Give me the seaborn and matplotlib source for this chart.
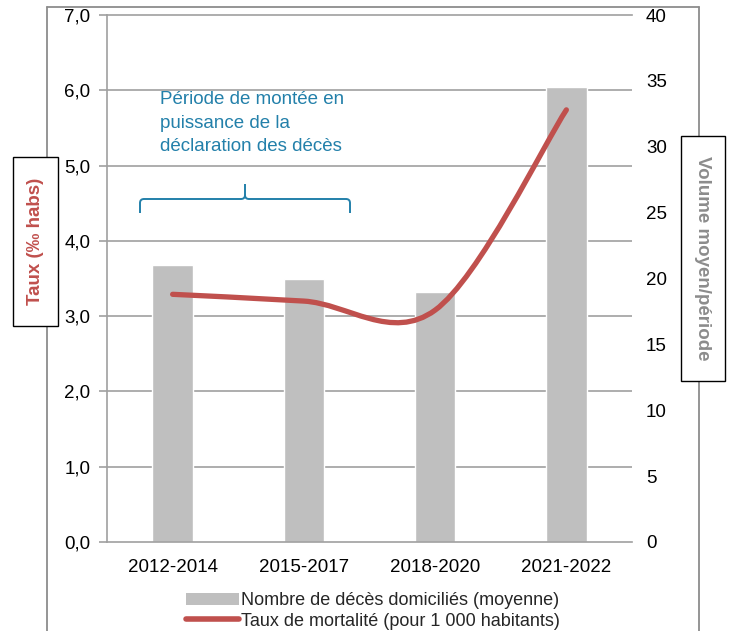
import numpy as np
import pandas as pd
import matplotlib
matplotlib.use("Agg")
import matplotlib.pyplot as plt
from matplotlib.path import Path
from matplotlib.patches import PathPatch, Rectangle, Patch
from matplotlib.lines import Line2D
from matplotlib.ticker import FixedLocator, FuncFormatter
import seaborn as sns

# ---------------- data ----------------
periods = ["2012-2014", "2015-2017", "2018-2020", "2021-2022"]
volume_moyen = [21, 20, 19, 34.5]          # right axis (bars)
taux_mortalite = [3.29, 3.2, 3.08, 5.74]   # left axis (line, per 1000)
left_ticks = [0, 1, 2, 3, 4, 5, 6, 7]
right_ticks = [0, 5, 10, 15, 20, 25, 30, 35, 40]
label_bars = "Nombre de décès domiciliés (moyenne)"
label_line = "Taux de mortalité (pour 1 000 habitants)"
ylabel_left = "Taux (‰ habs)"
ylabel_right = "Volume moyen/période"
annotation = "Période de montée en\npuissance de la\ndéclaration des décès"

# ---------------- style ----------------
sns.set_style("white")
plt.rcParams["font.family"] = ["Liberation Sans", "DejaVu Sans"]

W, H = 731, 631
BAR_C = "#BFBFBF"
LINE_C = "#C0504D"
GRID_C = "#A0A0A0"
TEAL = "#2380AA"
FS = 13
TFS = 13.5

def fx(x):
    return x / W

def fy(y):
    return 1 - y / H

fig = plt.figure(figsize=(W / 100, H / 100), dpi=100)
ax = fig.add_axes([fx(107), fy(542), (632 - 107) / W, (542 - 15) / H])
ax2 = ax.twinx()
ax.set_zorder(2)
ax2.set_zorder(1)
ax.patch.set_visible(False)

df = pd.DataFrame({"periode": periods, "volume": volume_moyen, "taux": taux_mortalite})

# bars on the right axis
sns.barplot(data=df, x="periode", y="volume", ax=ax2, color=BAR_C,
            saturation=1, width=0.31, zorder=2)
ax2.set_ylim(0, 40)
ax2.set_yticks(right_ticks)
ax2.tick_params(axis="y", length=0, pad=10, labelsize=TFS, colors="black")
# grid lines aligned to the left-axis ticks, drawn behind the bars
ax2.yaxis.set_minor_locator(FixedLocator([v * 40 / 7 for v in left_ticks[1:-1]]))
ax2.tick_params(axis="y", which="minor", length=0)
ax2.grid(True, which="minor", axis="y", color=GRID_C, lw=1.2, zorder=0)
ax2.grid(False, which="major")
ax2.set_axisbelow(True)
for s in ax2.spines.values():
    s.set_visible(False)
ax2.set_xlabel("")
ax2.set_ylabel("")

# smoothed line (Excel-like Bezier smoothing) on the left axis
xs = np.arange(len(taux_mortalite), dtype=float)
ys = np.asarray(taux_mortalite, dtype=float)
pts = np.column_stack([xs, ys])
verts = [tuple(pts[0])]
codes = [Path.MOVETO]
n = len(pts)
for i in range(n - 1):
    p0 = pts[i - 1] if i > 0 else pts[i]
    p1 = pts[i]
    p2 = pts[i + 1]
    p3 = pts[i + 2] if i + 2 < n else pts[i + 1]
    c1 = p1 + (p2 - p0) / 6.0
    c2 = p2 - (p3 - p1) / 6.0
    verts += [tuple(c1), tuple(c2), tuple(p2)]
    codes += [Path.CURVE4] * 3
ax.add_patch(PathPatch(Path(verts, codes), facecolor="none", edgecolor=LINE_C,
                       lw=3.8, capstyle="round", joinstyle="round", zorder=5))

ax.set_ylim(0, 7)
ax.set_xlim(-0.5, len(periods) - 0.5)
ax.set_yticks(left_ticks)
ax.yaxis.set_major_formatter(FuncFormatter(lambda v, p: f"{v:.1f}".replace(".", ",")))
ax.tick_params(axis="y", length=6, width=1.2, color=GRID_C, pad=6,
               labelsize=TFS, colors="black")
ax.yaxis.set_tick_params(color=GRID_C)
ax.set_xticks(range(len(periods)))
ax.set_xticklabels(periods)
ax.tick_params(axis="x", which="major", length=0, pad=12, labelsize=TFS, colors="black")
ax.xaxis.set_minor_locator(FixedLocator(np.arange(-0.5, len(periods), 1.0)))
ax.tick_params(axis="x", which="minor", length=6, width=1.2, color=GRID_C)
ax.spines["right"].set_visible(False)
for side in ["left", "bottom", "top"]:
    ax.spines[side].set_color(GRID_C)
    ax.spines[side].set_linewidth(1.2)
ax.set_xlabel("")
ax.set_ylabel("")

# figure border (partly visible frame)
for (x0, y0, x1, y1) in [(47, 6.5, 47, 640), (47, 6.5, 699, 6.5), (699, 6.5, 699, 640)]:
    fig.add_artist(Line2D([fx(x0), fx(x1)], [fy(y0), fy(y1)], color="#8C8C8C",
                          lw=1.3, transform=fig.transFigure, zorder=0))

# boxed axis titles
fig.add_artist(Rectangle((fx(13), fy(326)), (58 - 13) / W, (326 - 157) / H,
                         transform=fig.transFigure, facecolor="white",
                         edgecolor="black", lw=1.0, zorder=3))
fig.text(fx(35.5), fy(241.5), ylabel_left, rotation=90, ha="center", va="center",
         fontsize=13.5, fontweight="bold", color=LINE_C, zorder=4)
fig.add_artist(Rectangle((fx(681), fy(381)), (725 - 681) / W, (381 - 136) / H,
                         transform=fig.transFigure, facecolor="white",
                         edgecolor="black", lw=1.0, zorder=3))
fig.text(fx(703), fy(258.5), ylabel_right, rotation=-90, ha="center", va="center",
         fontsize=13.5, fontweight="bold", color="#8C8C8C", zorder=4)

# annotation text and brace
fig.text(fx(160), fy(91), annotation, ha="left", va="top", fontsize=13.5,
         color=TEAL, linespacing=1.5, zorder=4)
bv = [(140, 213), (140, 203), (140, 199), (144, 199), (241, 199), (245, 199),
      (245, 195), (245, 184),
      (245, 195), (245, 199), (249, 199), (346, 199), (350, 199), (350, 203),
      (350, 213)]
bc = [Path.MOVETO, Path.LINETO, Path.CURVE3, Path.CURVE3, Path.LINETO,
      Path.CURVE3, Path.CURVE3, Path.LINETO,
      Path.MOVETO, Path.CURVE3, Path.CURVE3, Path.LINETO, Path.CURVE3,
      Path.CURVE3, Path.LINETO]
fig.add_artist(PathPatch(Path([(fx(a), fy(b)) for a, b in bv], bc),
                         transform=fig.transFigure, facecolor="none",
                         edgecolor=TEAL, lw=1.4, zorder=4))

# legend
handles = [Patch(facecolor=BAR_C, edgecolor="none"),
           Line2D([], [], color=LINE_C, lw=4, solid_capstyle="round")]
fig.legend(handles, [label_bars, label_line], loc="center",
           bbox_to_anchor=(fx(373), fy(611)), frameon=False, fontsize=FS,
           handlelength=2.9, handletextpad=0.1, labelspacing=0.2, borderpad=0)

fig.savefig("out.png", dpi=100)
